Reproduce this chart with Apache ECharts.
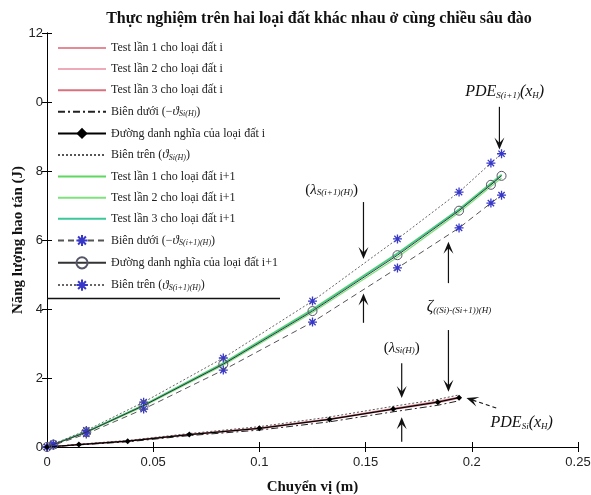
<!DOCTYPE html>
<html>
<head>
<meta charset="utf-8">
<script src="https://cdn.jsdelivr.net/npm/echarts@6/dist/echarts.min.js"></script>
<style>html,body{margin:0;padding:0;background:#fff}#c{width:591px;height:495px}</style>
</head>
<body>
<div id="c"></div>
<script>
// ---- data ----
const xTicks = [0, 0.05, 0.1, 0.15, 0.2, 0.25];
const xTickLabels = ['0', '0.05', '0.1', '0.15', '0.2', '0.25'];
const yTicks = [0, 2, 4, 6, 8, 10, 12];
const yTickLabels = ['0', '2', '4', '6', '8', '0', '12'];

// soil i
const xI = [0, 0.015, 0.038, 0.067, 0.1, 0.133, 0.163, 0.184, 0.194];
const nomI = [0, 0.07, 0.17, 0.36, 0.54, 0.8, 1.1, 1.3, 1.43];
const upI = [0, 0.08, 0.19, 0.39, 0.59, 0.87, 1.18, 1.38, 1.51];
const loI = [0, 0.06, 0.15, 0.33, 0.49, 0.73, 1.02, 1.21, 1.34];
const t1I = [0, 0.08, 0.18, 0.37, 0.56, 0.82, 1.12, 1.33, 1.45];
const t2I = [0, 0.07, 0.16, 0.35, 0.52, 0.79, 1.08, 1.28, 1.41];
const t3I = [0, 0.07, 0.17, 0.37, 0.55, 0.81, 1.1, 1.31, 1.44];

// soil i+1
const xJ = [0, 0.003, 0.0185, 0.0455, 0.083, 0.125, 0.165, 0.194, 0.209, 0.214];
const nomJ = [0, 0.07, 0.43, 1.2, 2.4, 3.94, 5.56, 6.85, 7.6, 7.86];
const upJ = [0, 0.09, 0.48, 1.3, 2.58, 4.23, 6.03, 7.39, 8.23, 8.5];
const loJ = [0, 0.05, 0.38, 1.1, 2.23, 3.62, 5.19, 6.35, 7.07, 7.3];
const t1J = [0, 0.08, 0.45, 1.22, 2.44, 4.0, 5.62, 6.9, 7.65, 7.9];
const t2J = [0, 0.07, 0.42, 1.18, 2.37, 3.9, 5.5, 6.8, 7.55, 7.8];
const t3J = [0, 0.08, 0.44, 1.21, 2.42, 3.97, 5.6, 6.88, 7.62, 7.88];

const names = [
  'Test lần 1 cho loại đất i', 'Test lần 2 cho loại đất i', 'Test lần 3 cho loại đất i',
  'Biên dưới (−ϑSi(H))', 'Đường danh nghĩa của loại đất i', 'Biên trên (ϑSi(H))',
  'Test lần 1 cho loại đất i+1', 'Test lần 2 cho loại đất i+1', 'Test lần 3 cho loại đất i+1',
  'Biên dưới (−ϑS(i+1)(H))', 'Đường danh nghĩa của loại đất i+1', 'Biên trên (ϑS(i+1)(H))'
];
const legendRich = {
  'Biên dưới (−ϑSi(H))': 'Biên dưới (−{it|ϑ}{sub|Si(H)})',
  'Biên trên (ϑSi(H))': 'Biên trên ({it|ϑ}{sub|Si(H)})',
  'Biên dưới (−ϑS(i+1)(H))': 'Biên dưới (−{it|ϑ}{sub|S(i+1)(H)})',
  'Biên trên (ϑS(i+1)(H))': 'Biên trên ({it|ϑ}{sub|S(i+1)(H)})'
};

const zip = (xs, ys) => xs.map((x, i) => [x, ys[i]]);
const star = 'path://M0,-10L0,10M-10,0L10,0M-7,-7L7,7M-7,7L7,-7';
const serif = '"Liberation Serif","DejaVu Serif",serif';
const sans = '"Liberation Sans",Arial,sans-serif';
const clear = 'rgba(0,0,0,0)';

function line(name, xs, ys, color, width, type, extra) {
  return Object.assign({
    name, type: 'line', data: zip(xs, ys), showSymbol: false, symbol: 'circle',
    animation: false, z: 2,
    lineStyle: { color, width, type },
    itemStyle: { color: clear, borderColor: clear, borderWidth: 0 }
  }, extra || {});
}

const series = [
  line(names[0], xI, t1I, '#e58a96', 1.1, 'solid'),
  line(names[1], xI, t2I, '#eeaab8', 1.1, 'solid'),
  line(names[2], xI, t3I, '#d9707f', 1.1, 'solid'),
  line(names[3], xI, loI, '#222', 1, [7, 3, 2, 3]),
  line(names[4], xI, nomI, '#000', 1.2, 'solid', {
    symbol: 'diamond', symbolSize: 6, showSymbol: true, itemStyle: { color: '#000' }, z: 4 }),
  line(names[5], xI, upI, '#555', 1, [2, 2]),
  line(names[6], xJ, t1J, '#5fd85f', 1.3, 'solid'),
  line(names[7], xJ, t2J, '#7fe27f', 1.3, 'solid'),
  line(names[8], xJ, t3J, '#3cc79a', 1.3, 'solid'),
  line(names[9], xJ, loJ, '#555', 1, [6, 4], {
    symbol: star, symbolSize: 9, showSymbol: true,
    itemStyle: { color: '#3838c8', borderColor: '#3838c8', borderWidth: 1.3 }, z: 3 }),
  line(names[10], xJ, nomJ, '#333', 1, 'solid', {
    symbol: 'circle', symbolSize: 9, showSymbol: true,
    itemStyle: { color: 'rgba(255,255,255,0)', borderColor: '#556', borderWidth: 1 }, z: 4 }),
  line(names[11], xJ, upJ, '#666', 1, [2, 2], {
    symbol: star, symbolSize: 9, showSymbol: true,
    itemStyle: { color: '#3838c8', borderColor: '#3838c8', borderWidth: 1.3 }, z: 3 })
];

const axisCommon = {
  type: 'value', min: 0, splitLine: { show: false },
  axisLine: { show: true, lineStyle: { color: '#000', width: 1 } },
  axisTick: { show: true, inside: true, length: 5, lineStyle: { color: '#000' } }
};

const chart = echarts.init(document.getElementById('c'), null, { renderer: 'canvas' });
chart.setOption({
  animation: false,
  backgroundColor: '#fff',
  title: {
    text: 'Thực nghiệm trên hai loại đất khác nhau ở cùng chiều sâu đào',
    left: 314, top: 6, textAlign: 'center',
    textStyle: { fontFamily: serif, fontWeight: 'bold', fontSize: 16, color: '#111' }
  },
  grid: { left: 47, right: 13, top: 33, bottom: 48, containLabel: false, outerBoundsMode: 'none' },
  xAxis: [
    Object.assign({}, axisCommon, {
      max: 0.25, interval: 0.05, position: 'bottom',
      name: 'Chuyển vị (m)', nameLocation: 'middle', nameGap: 33, nameMoveOverlap: false,
      nameTextStyle: { fontFamily: serif, fontWeight: 'bold', fontSize: 15, color: '#111' },
      axisLabel: { margin: 9, fontFamily: sans, fontSize: 13, color: '#222',
        formatter: v => xTickLabels[xTicks.findIndex(t => Math.abs(t - v) < 1e-9)] }
    }),
    Object.assign({}, axisCommon, { max: 0.25, interval: 0.05, position: 'top', axisLabel: { show: false } })
  ],
  yAxis: [
    Object.assign({}, axisCommon, {
      max: 12, interval: 2, position: 'left',
      name: 'Năng lượng hao tán (J)', nameLocation: 'middle', nameGap: 21, nameMoveOverlap: false,
      nameTextStyle: { fontFamily: serif, fontWeight: 'bold', fontSize: 15, color: '#111' },
      axisLabel: { margin: 4, fontFamily: sans, fontSize: 13, color: '#222',
        formatter: v => yTickLabels[yTicks.indexOf(v)] }
    }),
    Object.assign({}, axisCommon, { max: 12, interval: 2, position: 'right', axisLabel: { show: false } })
  ],
  legend: {
    data: names, orient: 'vertical', left: 57, top: 42, padding: 0,
    itemWidth: 48, itemHeight: 14, itemGap: 9.1, selectedMode: false,
    formatter: n => legendRich[n] || n,
    textStyle: {
      fontFamily: serif, fontSize: 12, color: '#222',
      rich: {
        it: { fontFamily: serif, fontSize: 13, fontStyle: 'italic', color: '#222' },
        sub: { fontFamily: serif, fontSize: 8, fontStyle: 'italic', color: '#222', verticalAlign: 'bottom' }
      }
    }
  },
  series
});

// ---- annotations placed in data coordinates ----
const P = (x, y) => chart.convertToPixel({ xAxisIndex: 0, yAxisIndex: 0 }, [x, y]);
const g = [];
function arrow(a, b, dashed) {
  const p1 = P(a[0], a[1]), p2 = P(b[0], b[1]);
  const dx = p2[0] - p1[0], dy = p2[1] - p1[1], len = Math.hypot(dx, dy);
  const ux = dx / len, uy = dy / len, nx = -uy, ny = ux, L = 12, W = 5;
  g.push({ type: 'line', z: 10, silent: true,
    shape: { x1: p1[0], y1: p1[1], x2: p2[0] - ux * 6, y2: p2[1] - uy * 6 },
    style: { stroke: '#111', lineWidth: 1.2, lineDash: dashed ? [4, 3] : null } });
  g.push({ type: 'polygon', z: 10, silent: true,
    shape: { points: [
      [p2[0], p2[1]],
      [p2[0] - ux * L + nx * W, p2[1] - uy * L + ny * W],
      [p2[0] - ux * L * 0.55, p2[1] - uy * L * 0.55],
      [p2[0] - ux * L - nx * W, p2[1] - uy * L - ny * W]
    ] },
    style: { fill: '#111' } });
}
function label(x, y, text, size) {
  const p = P(x, y);
  g.push({ type: 'text', z: 10, silent: true, x: p[0], y: p[1],
    style: { text, align: 'center', verticalAlign: 'middle', fill: '#111',
      font: (size || 15) + 'px ' + serif,
      rich: {
        n: { fontFamily: serif, fontSize: size || 15, fill: '#111' },
        it: { fontFamily: serif, fontSize: size || 15, fontStyle: 'italic', fill: '#111' },
        sub: { fontFamily: serif, fontSize: 9, fontStyle: 'italic', fill: '#111', verticalAlign: 'bottom' }
      } } });
}
// legend frame bottom line
const lb0 = P(0, 0);
g.push({ type: 'line', z: 10, silent: true, shape: { x1: lb0[0], y1: 298.5, x2: 280, y2: 298.5 },
  style: { stroke: '#111', lineWidth: 1.3 } });

label(0.134, 7.45, '{n|(}{it|λ}{sub|S(i+1)(H)}{n|)}', 15);
arrow([0.149, 7.1], [0.149, 5.45]);
arrow([0.149, 3.6], [0.149, 4.45]);

label(0.194, 4.06, '{it|ζ}{sub|((Si)-(Si+1))(H)}', 16);
arrow([0.189, 4.75], [0.189, 5.95]);
arrow([0.189, 3.39], [0.189, 1.6]);

label(0.167, 2.87, '{n|(}{it|λ}{sub|Si(H)}{n|)}', 15);
arrow([0.167, 2.43], [0.167, 1.42]);
arrow([0.167, 0.15], [0.167, 0.86]);

label(0.2235, 0.7, '{it|PDE}{sub|Si}{it|(x}{sub|H}{it|)}', 16);
arrow([0.2115, 1.13], [0.1975, 1.42], true);

label(0.2155, 10.29, '{it|PDE}{sub|S(i+1)}{it|(x}{sub|H}{it|)}', 16);
arrow([0.213, 9.86], [0.213, 8.62]);

chart.setOption({ graphic: g });
</script>
</body>
</html>
